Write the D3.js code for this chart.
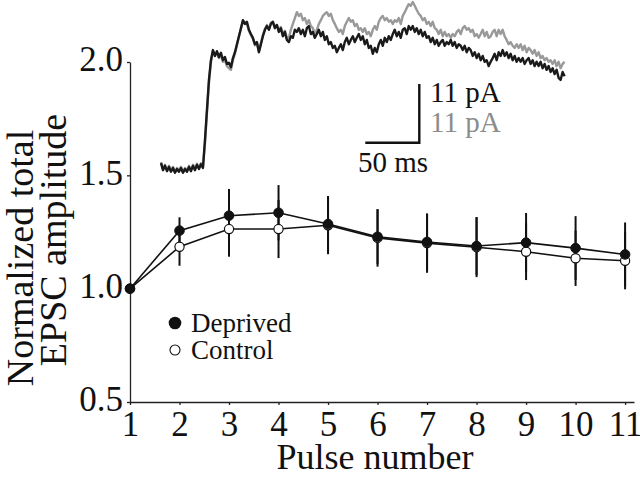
<!DOCTYPE html>
<html><head><meta charset="utf-8">
<script src="https://cdn.jsdelivr.net/npm/d3@7"></script>
<style>
html,body{margin:0;padding:0;background:#fff;}
svg{display:block;}
svg text{font-family:"Liberation Serif","Times New Roman",Times,"DejaVu Serif",serif;}
</style></head>
<body>
<svg id="c" width="640" height="477"></svg>
<script>
// ---------- data ----------
const pulses = [1,2,3,4,5,6,7,8,9,10,11];
const deprived = [1.0,1.256,1.322,1.335,1.285,1.229,1.206,1.188,1.203,1.179,1.151];
const control  = [1.0,1.185,1.263,1.263,1.280,1.224,1.201,1.183,1.163,1.134,1.123];
const deprivedErr = [0,0.059,0.118,0.122,0.124,0.121,0.124,0.128,0.131,0.141,0.141];
const controlErr  = [0,0.084,0.122,0.128,0.128,0.127,0.131,0.132,0.125,0.122,0.126];
const yTicks = [0.5,1.0,1.5,2.0];
const xTicks = pulses;
const seriesNames = ["Deprived","Control"];
const xLabel = "Pulse number";
const yLabel = ["Normalized total","EPSC amplitude"];

// inset traces (pA), one sample every 1.85 ms
const sampleInterval = 1.85;
const blackTrace = [
0.9,-0.4,0.4,-0.6,0.2,-0.7,0,-0.9,-0.2,-0.7,0,-0.9,-0.2,-0.7,0.2,-0.6,0.4,-0.4,0.6,-0.2,0.7,0,
5.2,10.9,16.5,20.2,22.1,
21.0,21.9,20.8,21.6,20.2,20.8,19.5,19.7,18.9,20.6,
21.7,23.2,24.7,26.2,27.7,27.0,27.4,25.9,25.1,24.4,
23.2,23.6,21.7,23.2,24.7,25.9,26.6,25.9,27.0,27.4,
26.2,26.8,25.5,26.2,24.7,25.5,24.0,23.6,24.7,24.4,
25.9,25.5,26.2,25.1,25.9,24.7,26.2,26.6,25.1,25.5,
24.4,25.1,25.9,24.7,25.5,24.0,24.7,23.2,23.6,22.5,
22.9,21.7,22.5,23.2,22.1,23.6,24.4,23.2,24.0,24.7,
23.6,24.4,25.1,24.0,24.7,23.2,24.0,22.5,22.9,21.4,
22.5,21.7,23.2,24.0,22.9,24.4,23.6,24.7,24.0,25.1,
25.9,24.7,25.5,24.4,25.9,26.2,25.1,26.6,
25.9,26.6,25.5,26.2,25.1,25.9,24.7,25.5,24.4,24.7,
23.6,24.4,23.2,24.0,22.9,23.6,24.0,22.9,23.6,23.2,
24.0,22.9,23.6,22.5,23.2,22.9,22.1,22.9,21.7,22.5,
22.1,21.0,21.7,20.6,21.4,20.2,21.0,19.9,20.2,19.1,
19.9,20.6,21.4,20.2,21.7,21.0,22.1,21.0,21.7,20.6,
21.4,20.2,21.0,19.9,20.6,19.9,20.6,19.5,20.2,20.6,
19.5,20.2,19.1,19.9,19.1,19.9,18.7,19.5,18.4,19.1,
18.0,18.7,17.6,18.4,16.9,16.5,18.0,17.2];
const grayTrace = [
1.1,-0.2,0.6,-0.4,0.4,-0.5,0.2,-0.7,0,-0.5,0.2,-0.7,0,-0.5,0.4,-0.4,0.6,-0.2,0.8,0,0.9,0.2,
4.6,10.3,16.0,19.9,21.9,
21.2,21.6,20.6,21.2,19.9,20.2,19.1,18.7,18.4,20.2,
21.4,23.0,24.6,26.0,27.6,27.2,27.0,25.7,24.9,24.2,
23.0,23.4,21.9,23.4,24.9,26.0,26.8,26.0,27.2,27.4,
26.4,26.8,25.7,26.4,24.9,25.7,24.4,
24.4,25.9,27.0,28.1,29.2,28.5,28.9,27.7,28.1,27.0,
27.7,26.6,26.2,25.1,25.9,27.0,27.7,28.5,28.9,29.2,
28.5,28.9,27.7,27.0,26.2,25.5,25.9,25.1,26.6,27.4,
28.1,27.4,27.7,26.6,27.0,25.9,26.2,25.5,26.2,25.1,
25.5,24.7,25.9,26.6,25.9,27.4,28.1,28.5,27.7,28.1,
27.4,27.7,27.0,27.7,27.4,28.1,27.0,28.5,29.2,30.0,
30.7,30.4,31.1,30.4,29.6,28.9,28.5,27.7,28.1,27.0,
27.4,26.6,27.4,26.2,25.9,25.1,25.9,24.7,25.5,24.7,
25.1,24.4,25.1,24.7,25.5,25.9,25.1,26.2,26.6,25.9,
26.2,25.5,25.9,24.7,25.1,24.4,25.1,25.9,24.7,25.5,
24.4,24.7,25.5,25.9,24.7,25.9,25.1,25.9,24.7,24.0,
23.2,23.6,22.9,22.5,23.2,22.5,23.2,22.1,22.9,21.7,
22.5,22.1,21.4,22.1,21.0,21.7,20.6,21.0,20.2,20.6,
19.9,20.2,19.5,20.2,19.1,19.9,18.7,19.5,19.9];
const scaleBarTime = 50;   // ms
const scaleBarAmp = 11;    // pA
const scaleBarLabels = ["11 pA","11 pA","50 ms"];

// ---------- scales ----------
const FONT = '"Liberation Serif","Times New Roman",Times,"DejaVu Serif",serif';
const svg = d3.select("#c").attr("font-family", FONT);
const x = d3.scaleLinear().domain([1, 11.18]).range([130, 634]);
const y = d3.scaleLinear().domain([0.5, 2.0]).range([402, 62]);

// axes
const xAxis = d3.axisBottom(x).tickValues(xTicks).tickFormat(d3.format("d")).tickSize(3).tickSizeOuter(0);
const gx = svg.append("g").attr("transform","translate(0,402)").call(xAxis).attr("font-family", FONT);
gx.select(".domain").attr("stroke","#222").attr("stroke-width",1.3);
gx.selectAll(".tick line").attr("stroke","#222").attr("stroke-width",1.3);
gx.selectAll(".tick text").attr("font-size",35).attr("fill","#111").attr("y",9).attr("dy","0.71em");

const yAxis = d3.axisLeft(y).tickValues(yTicks).tickFormat(d3.format(".1f")).tickSize(3).tickSizeOuter(0);
const gy = svg.append("g").attr("transform","translate(130,0)").call(yAxis).attr("font-family", FONT);
gy.select(".domain").attr("stroke","#222").attr("stroke-width",1.3);
gy.selectAll(".tick line").attr("stroke","#222").attr("stroke-width",1.3);
gy.selectAll(".tick text").attr("font-size",35).attr("fill","#111").attr("x",-7).attr("dy","0.25em");

// axis labels
svg.append("text").attr("x",375).attr("y",469).attr("text-anchor","middle")
  .attr("font-size",36).attr("fill","#111").text(xLabel);
svg.append("text").attr("transform","translate(33,258) rotate(-90)").attr("text-anchor","middle")
  .attr("font-size",38).attr("fill","#111").text(yLabel[0]);
svg.append("text").attr("transform","translate(66,240) rotate(-90)").attr("text-anchor","middle")
  .attr("font-size",38).attr("fill","#111").text(yLabel[1]);

// ---------- inset traces ----------
const xT = d3.scaleLinear().domain([0, 50]).range([161, 215]);
const yT = d3.scaleLinear().domain([0, 11]).range([168, 109.3]);
const traceLine = d3.line().x((d,i)=>xT(i*sampleInterval)).y(d=>yT(d));
svg.append("path").datum(grayTrace).attr("d",traceLine).attr("fill","none")
  .attr("stroke","#999").attr("stroke-width",2.4).attr("stroke-linejoin","round");
svg.append("path").datum(blackTrace).attr("d",traceLine).attr("fill","none")
  .attr("stroke","#1a1a1a").attr("stroke-width",2.4).attr("stroke-linejoin","round");

// scale bar
const sbX = 419.3, sbY = 142.7;
const sbW = xT(scaleBarTime) - xT(0);
const sbH = yT(0) - yT(scaleBarAmp);
svg.append("path").attr("d",`M${sbX-sbW},${sbY}H${sbX}V${sbY-sbH}`)
  .attr("fill","none").attr("stroke","#111").attr("stroke-width",2.4);
svg.append("text").attr("x",430).attr("y",102).attr("font-size",29).attr("fill","#111").text(scaleBarLabels[0]);
svg.append("text").attr("x",430).attr("y",132).attr("font-size",29).attr("fill","#8c8c8c").text(scaleBarLabels[1]);
svg.append("text").attr("x",358).attr("y",172).attr("font-size",29).attr("fill","#111").text(scaleBarLabels[2]);

// ---------- error bars ----------
const idx = d3.range(pulses.length);
svg.append("g").selectAll("line").data(idx).join("line")
  .attr("x1",i=>x(pulses[i])).attr("x2",i=>x(pulses[i]))
  .attr("y1",i=>y(control[i]-controlErr[i])).attr("y2",i=>y(control[i]+controlErr[i]))
  .attr("stroke","#111").attr("stroke-width",2);
svg.append("g").selectAll("line").data(idx).join("line")
  .attr("x1",i=>x(pulses[i])).attr("x2",i=>x(pulses[i]))
  .attr("y1",i=>y(deprived[i]-deprivedErr[i])).attr("y2",i=>y(deprived[i]+deprivedErr[i]))
  .attr("stroke","#111").attr("stroke-width",2);

// lines
const line = d3.line().x((d,i)=>x(pulses[i])).y(d=>y(d));
svg.append("path").datum(control).attr("d",line).attr("fill","none").attr("stroke","#111").attr("stroke-width",1.6);
svg.append("path").datum(deprived).attr("d",line).attr("fill","none").attr("stroke","#111").attr("stroke-width",1.6);

// markers
svg.append("g").selectAll("circle").data(control).join("circle")
  .attr("cx",(d,i)=>x(pulses[i])).attr("cy",d=>y(d)).attr("r",4.6)
  .attr("fill","#fff").attr("stroke","#111").attr("stroke-width",1.2);
svg.append("g").selectAll("circle").data(deprived).join("circle")
  .attr("cx",(d,i)=>x(pulses[i])).attr("cy",d=>y(d)).attr("r",4.8)
  .attr("fill","#111").attr("stroke","#111").attr("stroke-width",1);

// legend
const lg = svg.append("g");
lg.append("circle").attr("cx",175).attr("cy",323).attr("r",6.3).attr("fill","#111");
lg.append("text").attr("x",191).attr("y",332).attr("font-size",27).attr("fill","#111").text(seriesNames[0]);
lg.append("circle").attr("cx",175).attr("cy",350).attr("r",5).attr("fill","#fff").attr("stroke","#111").attr("stroke-width",1.1);
lg.append("text").attr("x",191).attr("y",359).attr("font-size",27).attr("fill","#111").text(seriesNames[1]);
</script>
</body></html>
